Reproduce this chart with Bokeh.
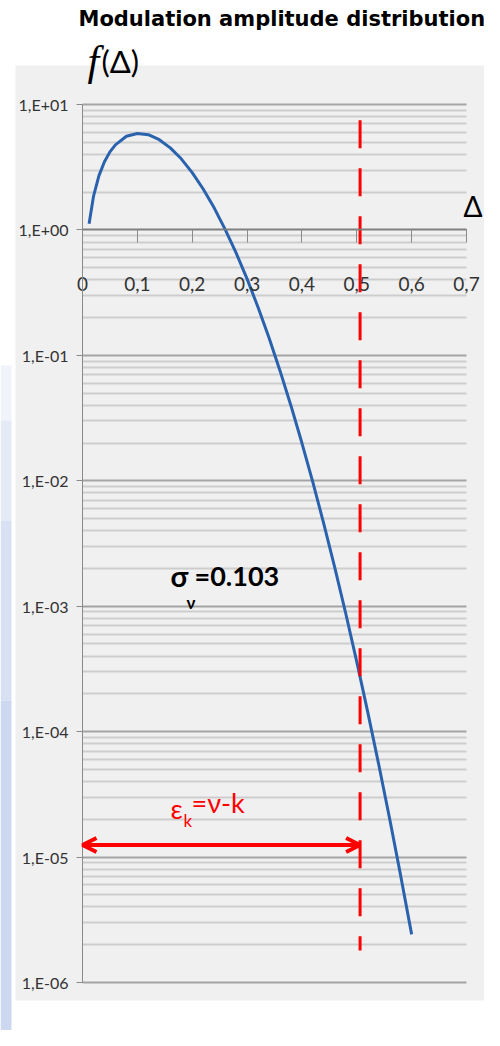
from bokeh.plotting import figure
from bokeh.models import (Range1d, LinearAxis, LogAxis, FixedTicker, CustomJSTickFormatter,
                          Label, Arrow, OpenHead, BoxAnnotation, Grid)
from bokeh.embed import file_html
from bokeh.resources import INLINE

# ---- data ----
delta = [0.012, 0.02, 0.03, 0.04, 0.05, 0.06, 0.08, 0.10, 0.12, 0.14, 0.16, 0.18,
         0.20, 0.22, 0.24, 0.26, 0.28, 0.30, 0.32, 0.34, 0.36, 0.38, 0.40, 0.42,
         0.44, 0.46, 0.48, 0.50, 0.52, 0.54, 0.56, 0.58, 0.60]
f_delta = [1.12, 1.85, 2.71, 3.50, 4.19, 4.77, 5.58, 5.88, 5.74, 5.24, 4.51, 3.69,
           2.86, 2.12, 1.50, 1.01, 0.656, 0.407, 0.242, 0.138, 0.0755, 0.0397, 0.0200, 0.00970,
           0.00452, 0.00202, 0.000871, 0.000360, 0.000143, 5.47e-5, 2.01e-5, 7.11e-6, 2.42e-6]
cut_x = [0.506, 0.506]
cut_y = [7.5, 1.8e-6]
arrow_x = [0.0, 0.506]
arrow_y = 1.25e-5
x_ticks = [0, 0.1, 0.2, 0.3, 0.4, 0.5, 0.6, 0.7]
x_tick_labels = ["0", "0,1", "0,2", "0,3", "0,4", "0,5", "0,6", "0,7"]
y_ticks = [1e-6, 1e-5, 1e-4, 1e-3, 1e-2, 1e-1, 1, 10]
x_lim = (0, 0.7)
y_lim = (1e-6, 10)
title_text = "Modulation amplitude distribution"
sigma_text = "=0.103"
eps_text = "=ν-k"

FONT = "Lato"
W, H = 484, 1030
# frame covers the whole canvas; plot box in pixels: x 82..466, y 104..982
px_per_x = (466 - 82) / (x_lim[1] - x_lim[0])
dec_px = (982 - 104) / 7.0
x_range = Range1d(x_lim[0] - 82 / px_per_x, x_lim[1] + (W - 466) / px_per_x)
y_range = Range1d(10 ** (-6 - (H - 982) / dec_px), 10 ** (1 + 104 / dec_px))


def xd(px):
    return x_lim[0] + (px - 82) / px_per_x


def yd(py):
    return 10 ** (1 - (py - 104) / dec_px)


p = figure(width=W, height=H, x_range=x_range, y_range=y_range,
           y_axis_type="log", x_axis_location=None, y_axis_location=None,
           output_backend="svg", toolbar_location=None,
           min_border_left=0, min_border_right=0, min_border_top=0, min_border_bottom=0)
p.background_fill_color = "white"
p.border_fill_color = "white"
p.outline_line_color = None
for g in p.grid:
    g.visible = False


# grey panel & left blue strip (background decoration)
def pbox(l, r, t, b, color):
    p.add_layout(BoxAnnotation(left=xd(l), right=xd(r), top=yd(t), bottom=yd(b),
                               fill_color=color, fill_alpha=1, line_color=None,
                               level="image"))


pbox(15, 489, 65, 1000, "#f0f0f0")
pbox(0, 11, 365, 420, "#f0f3fa")
pbox(0, 11, 420, 520, "#e4eaf6")
pbox(0, 11, 520, 700, "#d8e1f3")
pbox(0, 11, 700, 1030, "#cbd8ef")

# tickers
minor = [m * 10.0 ** k for k in range(-6, 1) for m in range(2, 10)]
yticker = FixedTicker(ticks=y_ticks, minor_ticks=minor)

# grid lines limited to the x extent
ygrid = Grid(dimension=1, ticker=yticker, grid_line_color="#a4a4a4", grid_line_width=2,
             minor_grid_line_color="#cdcdcd", minor_grid_line_width=2)
if "cross_bounds" in Grid.properties():
    ygrid.cross_bounds = x_lim
    p.add_layout(ygrid, "center")
else:
    p.segment(x0=[x_lim[0]] * len(minor), x1=[x_lim[1]] * len(minor), y0=minor, y1=minor,
              line_color="#cdcdcd", line_width=2)
    p.segment(x0=[x_lim[0]] * len(y_ticks), x1=[x_lim[1]] * len(y_ticks), y0=y_ticks, y1=y_ticks,
              line_color="#a4a4a4", line_width=2)

# y axis at x = 0
yax = LogAxis(fixed_location=0, bounds=y_lim, ticker=yticker)
yax.formatter = CustomJSTickFormatter(code="""
const e = Math.round(Math.log10(tick));
const s = e < 0 ? "-" : "+";
const a = Math.abs(e);
return "1,E" + s + (a < 10 ? "0" : "") + a;
""")
yax.major_label_text_font = FONT
yax.major_label_text_font_size = "16px"
yax.major_label_text_color = "#333333"
yax.major_tick_out = 6
yax.major_tick_in = 0
yax.minor_tick_line_color = None
yax.axis_line_color = "#8a8a8a"
yax.major_tick_line_color = "#8a8a8a"
yax.major_label_standoff = 8
p.add_layout(yax, "left")

# x axis at f = 1
xax = LinearAxis(fixed_location=1.0, bounds=x_lim, ticker=FixedTicker(ticks=x_ticks),
                 major_label_overrides=dict(zip(x_ticks, x_tick_labels)))
xax.major_label_text_font = FONT
xax.major_label_text_font_size = "19px"
xax.major_label_text_color = "#333333"
xax.major_tick_out = 13
xax.major_tick_in = 0
xax.minor_tick_line_color = None
xax.axis_line_color = "#7f7f7f"
xax.axis_line_width = 1.5
xax.major_tick_line_color = "#8a8a8a"
xax.major_label_standoff = 34
p.add_layout(xax, "below")

# curve
p.line(delta, f_delta, line_color="#2a62ad", line_width=3)

# red cut line
p.line(cut_x, cut_y, line_color="#ff0000", line_width=3, line_dash="28 20")

# arrow
p.add_layout(Arrow(x_start=arrow_x[0], y_start=arrow_y, x_end=arrow_x[1], y_end=arrow_y,
                   line_color="#ff0000", line_width=4,
                   start=OpenHead(size=14, line_color="#ff0000", line_width=4),
                   end=OpenHead(size=14, line_color="#ff0000", line_width=4)))

# texts inside the plot box
p.add_layout(Label(x=xd(170), y=1.75e-3, text="σ", text_font=FONT, text_font_style="bold",
                   text_font_size="29px", text_baseline="middle", text_color="black"))
p.add_layout(Label(x=xd(186), y=1.08e-3, text="ν", text_font=FONT, text_font_style="bold",
                   text_font_size="17px", text_baseline="middle", text_color="black"))
p.add_layout(Label(x=xd(194), y=1.75e-3, text=sigma_text, text_font=FONT, text_font_style="bold",
                   text_font_size="27px", text_baseline="middle", text_color="black"))

p.add_layout(Label(x=xd(170), y=2.45e-5, text="ε", text_font=FONT,
                   text_font_size="27px", text_baseline="middle", text_color="#ff0000"))
p.add_layout(Label(x=xd(183), y=1.95e-5, text="k", text_font=FONT,
                   text_font_size="17px", text_baseline="middle", text_color="#ff0000"))
p.add_layout(Label(x=xd(191), y=2.7e-5, text=eps_text, text_font=FONT,
                   text_font_size="27px", text_baseline="middle", text_color="#ff0000"))

# texts outside the plot box (screen units, from canvas bottom-left)
p.add_layout(Label(x=78, y=H - 18, x_units="screen", y_units="screen", text=title_text,
                   text_font="DejaVu Sans", text_font_style="bold",
                   text_font_size="21px", text_baseline="middle", text_color="black"))
p.add_layout(Label(x=87, y=H - 60, x_units="screen", y_units="screen", text="f",
                   text_font="Liberation Serif", text_font_style="italic",
                   text_font_size="42px", text_baseline="middle", text_color="black"))
p.add_layout(Label(x=101, y=H - 60, x_units="screen", y_units="screen", text="(Δ)",
                   text_font=FONT, text_font_size="31px", text_baseline="middle",
                   text_color="black"))
p.add_layout(Label(x=482, y=H - 205, x_units="screen", y_units="screen", text="Δ",
                   text_font=FONT, text_font_size="28px", text_align="right",
                   text_baseline="middle", text_color="black"))

open("out.html", "w").write(file_html(p, INLINE))
